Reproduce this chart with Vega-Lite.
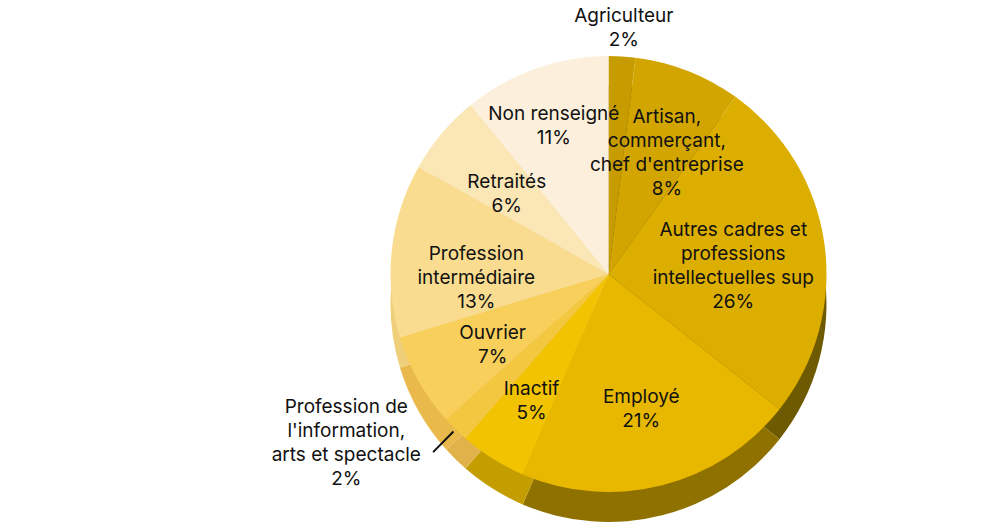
{
  "$schema": "https://vega.github.io/schema/vega-lite/v6.json",
  "autosize": {"type": "none"},
  "padding": {"left": 230, "top": 22, "right": 0, "bottom": 0},
  "width": 757,
  "height": 504,
  "background": "white",
  "config": {"view": {"stroke": null}},
  "data": {"values": [
    {"i": 1, "cat": "Agriculteur", "pct": 2, "label": "Agriculteur\n2%"},
    {"i": 2, "cat": "Artisan", "pct": 8, "label": "Artisan,\ncommerçant,\nchef d'entreprise\n8%"},
    {"i": 3, "cat": "Autres cadres", "pct": 26, "label": "Autres cadres et\nprofessions\nintellectuelles sup\n26%"},
    {"i": 4, "cat": "Employé", "pct": 21, "label": "Employé\n21%"},
    {"i": 5, "cat": "Inactif", "pct": 5, "label": "Inactif\n5%"},
    {"i": 6, "cat": "Profession info", "pct": 2, "label": "Profession de\nl'information,\narts et spectacle\n2%"},
    {"i": 7, "cat": "Ouvrier", "pct": 7, "label": "Ouvrier\n7%"},
    {"i": 8, "cat": "Profession intermédiaire", "pct": 13, "label": "Profession\nintermédiaire\n13%"},
    {"i": 9, "cat": "Retraités", "pct": 6, "label": "Retraités\n6%"},
    {"i": 10, "cat": "Non renseigné", "pct": 11, "label": "Non renseigné\n11%"}
  ]},
  "encoding": {
    "theta": {"field": "pct", "type": "quantitative", "stack": true},
    "order": {"field": "i", "type": "quantitative"}
  },
  "layer": [
    {
      "mark": {"type": "arc", "radius": 218, "yOffset": 30},
      "encoding": {
        "fill": {"field": "cat", "type": "nominal", "legend": null,
          "scale": {"domain": ["Agriculteur","Artisan","Autres cadres","Employé","Inactif","Profession info","Ouvrier","Profession intermédiaire","Retraités","Non renseigné"],
                    "range": ["#5e4b00","#65510a","#6e5a00","#8f7100","#c49e00","#e2b24a","#e9b94c","#efcf7a","#f0d9a0","#f0e2c8"]}}
      }
    },
    {
      "mark": {"type": "arc", "radius": 218},
      "encoding": {
        "color": {"field": "cat", "type": "nominal", "legend": null,
          "scale": {"domain": ["Agriculteur","Artisan","Autres cadres","Employé","Inactif","Profession info","Ouvrier","Profession intermédiaire","Retraités","Non renseigné"],
                    "range": ["#c69c00","#d2a500","#dcae00","#e8b800","#f2c300","#f4c740","#f7cf5a","#f9dc90","#fbe6b5","#fcf0dc"]}}
      }
    },
    {
      "mark": {"type": "arc", "radius": 250, "radius2": 221, "padAngle": 1, "fillOpacity": 0, "stroke": "#111", "strokeWidth": 2},
      "encoding": {
        "strokeOpacity": {"condition": {"test": "datum.i === 6", "value": 1}, "value": 0}
      }
    },
    {
      "mark": {"type": "text", "radius": 133, "font": "Inter", "fontSize": 19, "lineHeight": 24, "lineBreak": "\n", "color": "#111", "align": "center", "baseline": "middle", "dy": -6},
      "encoding": {
        "text": {"field": "label"},
        "opacity": {"condition": {"test": "indexof([4,7,8,9], datum.i) >= 0", "value": 1}, "value": 0}
      }
    },
    {
      "mark": {"type": "text", "radius": 145, "font": "Inter", "fontSize": 19, "lineHeight": 24, "lineBreak": "\n", "color": "#111", "align": "center", "baseline": "middle", "dy": -8},
      "encoding": {
        "text": {"field": "label"},
        "opacity": {"condition": {"test": "datum.i === 5", "value": 1}, "value": 0}
      }
    },
    {
      "mark": {"type": "text", "radius": 160, "font": "Inter", "fontSize": 19, "lineHeight": 24, "lineBreak": "\n", "color": "#111", "align": "center", "baseline": "middle", "dy": -8},
      "encoding": {
        "text": {"field": "label"},
        "opacity": {"condition": {"test": "datum.i === 2", "value": 1}, "value": 0}
      }
    },
    {
      "mark": {"type": "text", "radius": 163, "font": "Inter", "fontSize": 19, "lineHeight": 24, "lineBreak": "\n", "color": "#111", "align": "center", "baseline": "middle", "dy": -6},
      "encoding": {
        "text": {"field": "label"},
        "opacity": {"condition": {"test": "datum.i === 10", "value": 1}, "value": 0}
      }
    },
    {
      "mark": {"type": "text", "radius": 126, "font": "Inter", "fontSize": 19, "lineHeight": 24, "lineBreak": "\n", "color": "#111", "align": "center", "baseline": "middle", "dy": -26},
      "encoding": {
        "text": {"field": "label"},
        "opacity": {"condition": {"test": "datum.i === 3", "value": 1}, "value": 0}
      }
    },
    {
      "mark": {"type": "text", "radius": 246, "font": "Inter", "fontSize": 19, "lineHeight": 24, "lineBreak": "\n", "color": "#111", "align": "center", "baseline": "middle", "dy": -12},
      "encoding": {
        "text": {"field": "label"},
        "opacity": {"condition": {"test": "datum.i === 1", "value": 1}, "value": 0}
      }
    },
    {
      "mark": {"type": "text", "radius": 254, "font": "Inter", "fontSize": 19, "lineHeight": 24, "lineBreak": "\n", "color": "#111", "align": "center", "baseline": "middle", "dx": -84, "dy": -48},
      "encoding": {
        "text": {"field": "label"},
        "opacity": {"condition": {"test": "datum.i === 6", "value": 1}, "value": 0}
      }
    }
  ]
}
